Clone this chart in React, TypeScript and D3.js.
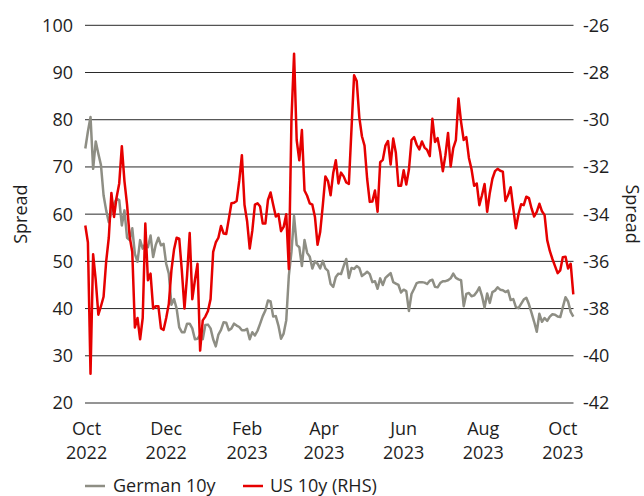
import React from "react";
import * as d3 from "d3";

// sampled every second day, Sep 30 2022 .. Oct 9 2023
const dates = [
  "2022-09-30", "2022-10-02", "2022-10-04", "2022-10-06", "2022-10-08", "2022-10-10", "2022-10-12", "2022-10-14",
  "2022-10-16", "2022-10-18", "2022-10-20", "2022-10-22", "2022-10-24", "2022-10-26", "2022-10-28", "2022-10-30",
  "2022-11-01", "2022-11-03", "2022-11-05", "2022-11-07", "2022-11-09", "2022-11-11", "2022-11-13", "2022-11-15",
  "2022-11-17", "2022-11-19", "2022-11-21", "2022-11-23", "2022-11-25", "2022-11-27", "2022-11-29",
  "2022-12-01", "2022-12-03", "2022-12-05", "2022-12-07", "2022-12-09", "2022-12-11", "2022-12-13", "2022-12-15",
  "2022-12-17", "2022-12-19", "2022-12-21", "2022-12-23", "2022-12-25", "2022-12-27", "2022-12-29", "2022-12-31",
  "2023-01-02", "2023-01-04", "2023-01-06", "2023-01-08", "2023-01-10", "2023-01-12", "2023-01-14", "2023-01-16",
  "2023-01-18", "2023-01-20", "2023-01-22", "2023-01-24", "2023-01-26", "2023-01-28", "2023-01-30",
  "2023-02-01", "2023-02-03", "2023-02-05", "2023-02-07", "2023-02-09", "2023-02-11", "2023-02-13", "2023-02-15",
  "2023-02-17", "2023-02-19", "2023-02-21", "2023-02-23", "2023-02-25", "2023-02-27",
  "2023-03-01", "2023-03-03", "2023-03-05", "2023-03-07", "2023-03-09", "2023-03-11", "2023-03-13", "2023-03-15",
  "2023-03-17", "2023-03-19", "2023-03-21", "2023-03-23", "2023-03-25", "2023-03-27", "2023-03-29", "2023-03-31",
  "2023-04-02", "2023-04-04", "2023-04-06", "2023-04-08", "2023-04-10", "2023-04-12", "2023-04-14", "2023-04-16",
  "2023-04-18", "2023-04-20", "2023-04-22", "2023-04-24", "2023-04-26", "2023-04-28", "2023-04-30",
  "2023-05-02", "2023-05-04", "2023-05-06", "2023-05-08", "2023-05-10", "2023-05-12", "2023-05-14", "2023-05-16",
  "2023-05-18", "2023-05-20", "2023-05-22", "2023-05-24", "2023-05-26", "2023-05-28", "2023-05-30",
  "2023-06-01", "2023-06-03", "2023-06-05", "2023-06-07", "2023-06-09", "2023-06-11", "2023-06-13", "2023-06-15",
  "2023-06-17", "2023-06-19", "2023-06-21", "2023-06-23", "2023-06-25", "2023-06-27", "2023-06-29",
  "2023-07-01", "2023-07-03", "2023-07-05", "2023-07-07", "2023-07-09", "2023-07-11", "2023-07-13", "2023-07-15",
  "2023-07-17", "2023-07-19", "2023-07-21", "2023-07-23", "2023-07-25", "2023-07-27", "2023-07-29", "2023-07-31",
  "2023-08-02", "2023-08-04", "2023-08-06", "2023-08-08", "2023-08-10", "2023-08-12", "2023-08-14", "2023-08-16",
  "2023-08-18", "2023-08-20", "2023-08-22", "2023-08-24", "2023-08-26", "2023-08-28", "2023-08-30",
  "2023-09-01", "2023-09-03", "2023-09-05", "2023-09-07", "2023-09-09", "2023-09-11", "2023-09-13", "2023-09-15",
  "2023-09-17", "2023-09-19", "2023-09-21", "2023-09-23", "2023-09-25", "2023-09-27", "2023-09-29",
  "2023-10-01", "2023-10-03", "2023-10-05", "2023-10-07", "2023-10-09",
];

// German 10y spread, left axis
const german = [
  73.9, 77.5, 80.6, 69.6, 75.4, 72.8, 70.4, 64, 60.8, 58.3,
  60.5, 62.2, 63.3, 63, 57.6, 60.8, 55, 54.5, 57, 51.6,
  49.9, 54.5, 52.7, 53.7, 53, 55.5, 50.9, 53.5, 55, 53.4,
  53.7, 49.5, 47.4, 40.8, 42, 40, 36, 35, 35, 36.8,
  36.8, 35.8, 33.5, 33.6, 34.5, 33.5, 36.5, 36.6, 35.8, 33.5,
  32, 34.5, 35.5, 37.1, 37, 35.4, 35.8, 36.8, 36.4, 36.1,
  35.4, 35.4, 35.7, 33.5, 35, 34.3, 35.3, 36.8, 38.4, 39.6,
  41.7, 41.5, 38.3, 38.4, 36.4, 33.6, 34.7, 37.5, 47, 52,
  59.6, 53.5, 53, 49, 54.5, 51.8, 51, 48.5, 50, 49.5,
  48.5, 50.1, 48.5, 48, 45.2, 44.6, 46.7, 47.4, 47.3, 49,
  50.5, 46.5, 48.6, 48.4, 49, 48.6, 46.9, 47.3, 47.8, 47.3,
  45.6, 45.8, 44.2, 46.4, 45, 46.5, 47, 47.5, 45.6, 45.3,
  45, 43.4, 44, 43.7, 39.5, 43.1, 44.2, 45.4, 45.6, 45.6,
  45.5, 45.2, 45.9, 46.1, 44.6, 44.5, 45.4, 45.8, 45.8, 46,
  46.4, 47.4, 46.5, 46.2, 46, 40.5, 43.1, 43.3, 42.6, 42.8,
  43.5, 44.5, 42.7, 40.2, 43.2, 41.2, 43.5, 43.8, 44.5, 44,
  43.9, 43.5, 43.8, 41.8, 42, 40.3, 40.1, 41, 41.9, 42.3,
  40.9, 39.1, 37.2, 35.1, 38.9, 37.2, 38, 37.4, 38.3, 38.8,
  38.7, 38.3, 38.2, 40.3, 42.4, 41.5, 39.3, 38.3,
];

// US 10y spread, right axis
const us = [
  -34.48, -35.2, -40.76, -35.7, -36.8, -38.26, -37.9, -37.5, -36, -35,
  -33.1, -34.12, -33.28, -32.7, -31.12, -32.6, -33.6, -34.96, -35.6, -38.8,
  -38.4, -39.3, -38.4, -34.4, -36.8, -36.52, -38, -37.9, -37.9, -38.84,
  -38.9, -38.4, -37.8, -36.38, -35.5, -35, -35.04, -36.4, -38, -36.6,
  -34.8, -37.6, -36.8, -36.1, -39.78, -38.5, -38.34, -38.1, -37.6, -35.6,
  -35.2, -35, -34.5, -34.82, -34.84, -34.2, -33.54, -33.52, -33.44, -32.58,
  -31.5, -33.6, -34.3, -35.46, -34.7, -33.6, -33.54, -33.68, -34.4, -34.4,
  -33.4, -33.08, -33.6, -34.1, -34, -34.72, -34.54, -34, -36.32, -30,
  -27.2, -30.86, -31.72, -30.44, -33, -33.22, -33.54, -33.6, -34.12, -35.3,
  -34.76, -33.64, -32.4, -32.6, -33.2, -32.26, -31.72, -32.7, -32.24, -32.4,
  -32.66, -32.72, -30.4, -28.12, -28.36, -29.9, -30.7, -31.1, -32.5, -33.48,
  -33.46, -33, -33.9, -31.8, -31.7, -31.1, -30.9, -31.9, -30.8, -31.4,
  -32.8, -32.8, -32.14, -32.74, -32.12, -30.86, -30.74, -31.06, -31.26, -30.92,
  -31.18, -31.28, -31.54, -29.96, -30.94, -30.78, -31.38, -32.18, -31.5, -30.56,
  -31.98, -31.2, -30.86, -29.1, -30.1, -30.86, -30.74, -31.62, -32.1, -32.8,
  -32.7, -33.62, -33.2, -32.72, -33.9, -33.1, -32.5, -32.18, -32.08, -32.16,
  -32.2, -33.44, -33.2, -32.86, -33.76, -34.6, -34, -33.58, -33.62, -33.26,
  -33.32, -33.76, -34.1, -33.9, -33.56, -33.88, -34.04, -35.1, -35.56, -35.9,
  -36.2, -36.5, -36.38, -35.82, -35.8, -36.3, -36.1, -37.4,
];

const leftTicks = [20, 30, 40, 50, 60, 70, 80, 90, 100];
const rightTicks = [-42, -40, -38, -36, -34, -32, -30, -28, -26];
const monthTicks = ["2022-10-01", "2022-12-01", "2023-02-01", "2023-04-01", "2023-06-01", "2023-08-01", "2023-10-01"];

const W = 644;
const H = 496;
const left = 85;
const right = 573.5;
const top = 25.3;
const bottom = 403;
const font = "'Open Sans', 'Noto Sans', sans-serif";
const GREY = "#8e8e84";
const RED = "#e60000";
const TXT = "#1e1e1e";

const parse = d3.timeParse("%Y-%m-%d");

export default function App() {
  const days = dates.map((d) => parse(d) as Date);

  const x = d3.scaleTime()
    .domain([days[0], days[days.length - 1]])
    .range([85.3, 573.3]);
  const y = d3.scaleLinear().domain([20, 100]).range([bottom, top]);
  const yR = d3.scaleLinear().domain([-42, -26]).range([bottom, top]);

  const germanLine = d3.line<number>()
    .x((_, i) => x(days[i]))
    .y((v) => y(v));
  const usLine = d3.line<number>()
    .x((_, i) => x(days[i]))
    .y((v) => yR(v));

  const fmtMon = d3.timeFormat("%b");
  const fmtYear = d3.timeFormat("%Y");

  return (
    <svg width={W} height={H} style={{ position: "absolute", left: 0, top: 0, background: "#fff" }}
      fontFamily={font}>
      {leftTicks.map((t) => (
        <g key={t}>
          <line x1={left} x2={right} y1={y(t)} y2={y(t)} stroke="#2a2a2a" strokeWidth={1} />
          <text x={73} y={y(t)} dy="0.36em" textAnchor="end" fontSize={18} fill={TXT}>{t}</text>
        </g>
      ))}
      {rightTicks.map((t) => (
        <text key={t} x={583} y={yR(t)} dy="0.36em" textAnchor="start" fontSize={18} fill={TXT}>{t}</text>
      ))}
      {monthTicks.map((m) => {
        const d = parse(m) as Date;
        return (
          <text key={m} x={x(d)} textAnchor="middle" fontSize={18} fill={TXT}>
            <tspan x={x(d)} y={434.5}>{fmtMon(d)}</tspan>
            <tspan x={x(d)} y={458.5}>{fmtYear(d)}</tspan>
          </text>
        );
      })}
      <text transform={`translate(27,${(top + bottom) / 2}) rotate(-90)`} textAnchor="middle" fontSize={18} fill={TXT}>Spread</text>
      <text transform={`translate(626,${(top + bottom) / 2}) rotate(90)`} textAnchor="middle" fontSize={18} fill={TXT}>Spread</text>

      <path d={germanLine(german) ?? ""} fill="none" stroke={GREY} strokeWidth={2.5} strokeLinejoin="round" />
      <path d={usLine(us) ?? ""} fill="none" stroke={RED} strokeWidth={2.5} strokeLinejoin="round" />

      <g fontSize={18} fill={TXT}>
        <line x1={85} x2={105} y1={486} y2={486} stroke={GREY} strokeWidth={2.5} />
        <text x={113} y={486} dy="0.36em">German 10y</text>
        <line x1={243} x2={263} y1={486} y2={486} stroke={RED} strokeWidth={2.5} />
        <text x={270} y={486} dy="0.36em">US 10y (RHS)</text>
      </g>
    </svg>
  );
}
